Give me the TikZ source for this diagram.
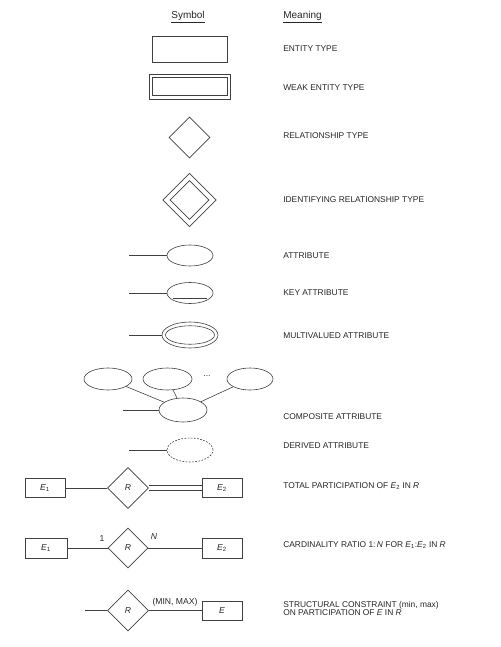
\documentclass[tikz,border=0pt]{standalone}
\usepackage{fontspec}
\setmainfont{Liberation Sans}
\usetikzlibrary{shapes.geometric,calc}
\colorlet{lc}{black!75}
\begin{document}
\begin{tikzpicture}[x=1pt,y=-1pt,
  line width=0.6pt,
  ln/.style={draw=lc},
  ent/.style={draw=lc, rectangle, inner sep=0pt},
  rel/.style={draw=lc, diamond, aspect=1, inner sep=0pt},
  att/.style={draw=lc, ellipse, inner sep=0pt},
  lbl/.style={anchor=west, inner sep=0pt, font=\fontsize{8.4}{9}\selectfont, text=black!85},
  hdr/.style={inner sep=0pt, font=\fontsize{10}{11}\selectfont, text=black!85},
  sym/.style={inner sep=0pt, font=\fontsize{8.6}{9}\selectfont, text=black!85}
]
\useasboundingbox (0,0) rectangle (500,647);
% headers
\node[hdr] (hs) at (188,17) {\underline{Symbol}};
\node[hdr, anchor=west] (hm) at (283,17) {\underline{Meaning}};
% entity
\node[ent, minimum width=75, minimum height=26] (ent) at (189.5,49) {};
\node[lbl] (t1) at (283,49) {ENTITY TYPE};
% weak entity
\node[ent, minimum width=81, minimum height=25] (weako) at (189.5,86.5) {};
\node[ent, minimum width=75, minimum height=18] (weaki) at (189.5,86.5) {};
\node[lbl] (t2) at (283,88) {WEAK ENTITY TYPE};
% relationship
\node[rel, minimum width=41, minimum height=41] (rel) at (189.5,137.5) {};
\node[lbl] (t3) at (283,136) {RELATIONSHIP TYPE};
% identifying relationship
\node[rel, minimum width=53.5, minimum height=53.5, line width=0.8pt] (idro) at (189.5,200) {};
\node[rel, minimum width=39, minimum height=39] (idri) at (189.5,200) {};
\node[lbl] (t4) at (283,200) {IDENTIFYING RELATIONSHIP TYPE};
% attribute
\node[att, minimum width=46, minimum height=21] (attr) at (190,255.5) {};
\coordinate (a0) at (129,255.5);
\draw[ln] (a0) -- (attr.west);
\node[lbl] (t5) at (283,256) {ATTRIBUTE};
% key attribute
\node[att, minimum width=46, minimum height=21] (key) at (190,293) {};
\coordinate (k0) at (129,293);
\draw[ln] (k0) -- (key.west);
\draw[ln] ($(key.center)+(-17,5)$) -- ($(key.center)+(17,5)$);
\node[lbl] (t6) at (283,293) {KEY ATTRIBUTE};
% multivalued
\node[att, minimum width=56, minimum height=26] (mvo) at (190,335) {};
\node[att, minimum width=49, minimum height=18.5] (mvi) at (190,335) {};
\coordinate (m0) at (129,335);
\draw[ln] (m0) -- (mvo.west);
\node[lbl] (t7) at (283,336) {MULTIVALUED ATTRIBUTE};
% composite
\node[att, minimum width=48, minimum height=22] (c1) at (108,379) {};
\node[att, minimum width=49, minimum height=22] (c2) at (167.5,379) {};
\node[att, minimum width=46, minimum height=22] (c3) at (250,379) {};
\node[sym] (dots) at (207,376) {...};
\node[att, minimum width=48, minimum height=24] (comp) at (183,410) {};
\coordinate (c0) at (123,410);
\draw[ln] (c0) -- (comp.west);
\draw[ln] (c1) -- (comp);
\draw[ln] (c2) -- (comp);
\draw[ln] (c3) -- (comp);
\node[lbl] (t8) at (283,417) {COMPOSITE ATTRIBUTE};
% derived
\node[att, dash pattern=on 1.8pt off 1.4pt, minimum width=46, minimum height=24] (der) at (190,450) {};
\coordinate (d0) at (129,450);
\draw[ln] (d0) -- (der.west);
\node[lbl] (t9) at (283,446) {DERIVED ATTRIBUTE};
% total participation
\node[ent, minimum width=40, minimum height=19, sym] (tpe1) at (45,488) {\textit{E}\textsubscript{1}};
\node[rel, minimum width=41, minimum height=41, sym] (tpr) at (128,488) {\textit{R}};
\node[ent, minimum width=40, minimum height=19, sym] (tpe2) at (222,488) {\textit{E}\textsubscript{2}};
\draw[ln] (tpe1) -- (tpr);
\draw[draw=lc, double, double distance=4pt] (tpr.east) -- (tpe2.west);
\node[lbl] (t10) at (283,486) {TOTAL PARTICIPATION OF \textit{E}\textsubscript{2} IN \textit{R}};
% cardinality
\node[ent, minimum width=42, minimum height=20, sym] (cre1) at (46,548) {\textit{E}\textsubscript{1}};
\node[rel, minimum width=40, minimum height=40, sym] (crr) at (128,548) {\textit{R}};
\node[ent, minimum width=40, minimum height=20, sym] (cre2) at (222,548) {\textit{E}\textsubscript{2}};
\draw[ln] (cre1) -- (crr);
\draw[ln] (crr) -- (cre2);
\node[sym] (one) at (102,539) {1};
\node[sym] (en) at (154,537) {\textit{N}};
\node[lbl] (t11) at (283,545) {CARDINALITY RATIO 1:\,\textit{N} FOR \textit{E}\textsubscript{1}:\textit{E}\textsubscript{2} IN \textit{R}};
% structural constraint
\coordinate (s0) at (85,610.5);
\node[rel, minimum width=41, minimum height=41, sym] (scr) at (128,610.5) {\textit{R}};
\node[ent, minimum width=40, minimum height=19, sym] (sce) at (222,610.5) {\textit{E}};
\draw[ln] (s0) -- (scr);
\draw[ln] (scr) -- (sce);
\node[sym] (mm) at (175,602) {(MIN, MAX)};
\node[lbl, align=left, font=\fontsize{8.4}{8.2}\selectfont] (t12) at (283,608.5) {STRUCTURAL CONSTRAINT (min, max)\\ON PARTICIPATION OF \textit{E} IN \textit{R}};
\end{tikzpicture}
\end{document}
